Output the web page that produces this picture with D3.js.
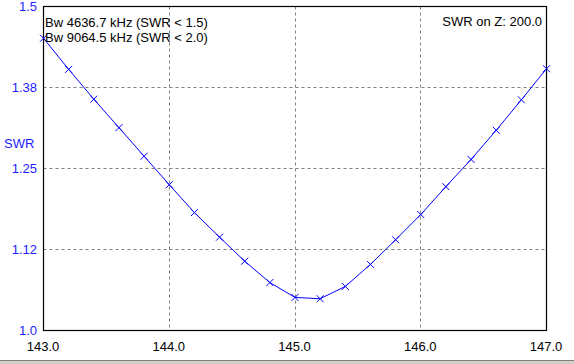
<!DOCTYPE html>
<html>
<head>
<meta charset="utf-8">
<script src="https://cdn.jsdelivr.net/npm/d3@7"></script>
<style>
  body { margin: 0; background: #fff; }
  svg { display: block; font-family: "Liberation Sans", Arial, sans-serif; }
</style>
</head>
<body>
<svg width="574" height="364"></svg>
<script>
var svg_width = 574;
var svg_height = 364;
var margin = { top: 6, left: 43 };
var plot_width = 503;
var plot_height = 324;

// data, one point every 0.2 MHz
var freqs = [143.0, 143.2, 143.4, 143.6, 143.8, 144.0, 144.2, 144.4, 144.6, 144.8,
    145.0, 145.2, 145.4, 145.6, 145.8, 146.0, 146.2, 146.4, 146.6, 146.8, 147.0];
var swr = [1.451, 1.403, 1.357, 1.313, 1.269, 1.225, 1.182, 1.144, 1.107, 1.074,
    1.051, 1.049, 1.068, 1.102, 1.140, 1.179, 1.222, 1.264, 1.309, 1.356, 1.404];
var x_ticks = [143, 144, 145, 146, 147];
var x_tick_labels = ["143.0", "144.0", "145.0", "146.0", "147.0"];
var y_ticks = [1.0, 1.125, 1.25, 1.375, 1.5];
var y_tick_labels = ["1.0", "1.12", "1.25", "1.38", "1.5"];
var info_lines = ["Bw 4636.7 kHz (SWR < 1.5)", "Bw 9064.5 kHz (SWR < 2.0)"];
var z_label = "SWR on Z: 200.0";

const xscale = d3.scaleLinear().domain([143, 147]).range([0, plot_width]);
const yscale = d3.scaleLinear().domain([1.0, 1.5]).range([plot_height, 0]);

var svg = d3.select("svg");

// window bottom band
svg.append("rect").attr("x", 0).attr("y", 360).attr("width", svg_width).attr("height", 4).attr("fill", "#d4d0c8");
svg.append("line").attr("x1", 0).attr("x2", svg_width).attr("y1", 360.5).attr("y2", 360.5).attr("stroke", "#808080");

var g = svg.append("g")
    .attr("transform", `translate(${margin.left + 0.5}, ${margin.top + 0.5})`);

// dashed grid
g.selectAll(".vgrid").data(x_ticks.slice(1, -1)).enter().append("line")
    .attr("x1", d => Math.round(xscale(d))).attr("x2", d => Math.round(xscale(d)))
    .attr("y1", 0).attr("y2", plot_height)
    .attr("stroke", "#808080").attr("stroke-dasharray", "3,3");
g.selectAll(".hgrid").data(y_ticks.slice(1, -1)).enter().append("line")
    .attr("y1", d => Math.round(yscale(d))).attr("y2", d => Math.round(yscale(d)))
    .attr("x1", 0).attr("x2", plot_width)
    .attr("stroke", "#808080").attr("stroke-dasharray", "3,3");

// frame
g.append("rect").attr("x", 0).attr("y", 0).attr("width", plot_width).attr("height", plot_height)
    .attr("fill", "none").attr("stroke", "#000").attr("stroke-width", 1.2);

// y tick labels
svg.selectAll(".ylab").data(y_ticks).enter().append("text")
    .attr("x", 37).attr("y", d => margin.top + yscale(d))
    .attr("dy", "0.36em").attr("text-anchor", "end")
    .attr("font-size", 13).attr("fill", "#1c1cff")
    .text((d, i) => y_tick_labels[i]);

svg.append("text").attr("x", 4).attr("y", 143).attr("dy", "0.36em")
    .attr("font-size", 13).attr("fill", "#1c1cff").text("SWR");

// x tick labels
svg.selectAll(".xlab").data(x_ticks).enter().append("text")
    .attr("x", d => margin.left + xscale(d)).attr("y", 346).attr("dy", "0.36em")
    .attr("text-anchor", "middle").attr("font-size", 13).attr("fill", "#000")
    .text((d, i) => x_tick_labels[i]);

// curve
var pts = freqs.map((f, i) => [xscale(f), yscale(swr[i])]);
g.append("path").attr("d", d3.line()(pts))
    .attr("fill", "none").attr("stroke", "#0000ff").attr("stroke-width", 1);

g.selectAll(".mark").data(pts).enter().append("path")
    .attr("d", d => `M${d[0] - 3.5},${d[1] - 3.5}L${d[0] + 3.5},${d[1] + 3.5}M${d[0] - 3.5},${d[1] + 3.5}L${d[0] + 3.5},${d[1] - 3.5}`)
    .attr("stroke", "#0000ff").attr("stroke-width", 1);

// info texts
svg.selectAll(".info").data(info_lines).enter().append("text")
    .attr("x", 45).attr("y", (d, i) => 22 + i * 15).attr("dy", "0.36em")
    .attr("font-size", 13).attr("fill", "#000").text(d => d);

svg.append("text").attr("x", 542).attr("y", 21).attr("dy", "0.36em")
    .attr("text-anchor", "end").attr("font-size", 13).attr("fill", "#000").text(z_label);
</script>
</body>
</html>
